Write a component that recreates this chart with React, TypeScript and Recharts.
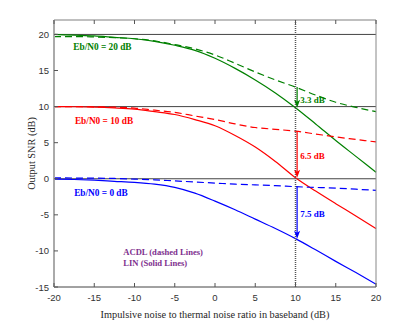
// output snr vs impulsive noise, acdl (dashed) against lin (solid) at three eb/n0 levels
import {
  ComposedChart,
  Line,
  XAxis,
  YAxis,
  ReferenceLine,
  ReferenceDot,
} from "recharts";

// x axis: impulsive-to-thermal noise ratio in dB
const noiseRatio = [-20, -17.5, -15, -12.5, -10, -7.5, -5, -2.5, 0, 2.5, 5, 7.5, 10, 12.5, 15, 17.5, 20];

// one value per noiseRatio entry
const acdl20 = [19.7, 19.7, 19.65, 19.55, 19.4, 19.1, 18.6, 18.0, 17.15, 16.0, 14.8, 13.7, 12.7, 11.6, 10.6, 9.9, 9.3];
const lin20 = [20.0, 19.9, 19.8, 19.6, 19.4, 19.05, 18.5, 17.8, 16.7, 15.3, 13.7, 11.9, 9.85, 7.6, 5.3, 3.1, 0.9];
const acdl10 = [10.0, 10.0, 9.97, 9.92, 9.8, 9.5, 9.2, 8.7, 8.2, 7.6, 7.1, 6.85, 6.6, 6.2, 5.8, 5.45, 5.1];
const lin10 = [10.0, 9.98, 9.93, 9.82, 9.65, 9.3, 8.9, 8.2, 7.35, 6.0, 4.4, 2.4, 0.15, -1.7, -3.45, -5.15, -6.9];
const acdl0 = [0.12, 0.1, 0.08, 0.04, -0.05, -0.15, -0.3, -0.45, -0.6, -0.75, -0.85, -0.95, -1.1, -1.2, -1.3, -1.45, -1.6];
const lin0 = [-0.05, -0.1, -0.2, -0.35, -0.5, -0.75, -1.2, -2.0, -3.1, -4.3, -5.6, -6.9, -8.3, -9.85, -11.45, -13.0, -14.6];

const xTicks = [-20, -15, -10, -5, 0, 5, 10, 15, 20];
const yTicks = [-15, -10, -5, 0, 5, 10, 15, 20];
const refLevels = [20, 10, 0];

// gap arrows at noise ratio 10 (from acdl value down to lin value)
const gapArrows = [
  { from: 12.7, to: 9.85, label: "3.3 dB", labelY: 10.9, color: "#008000" },
  { from: 6.6, to: 0.15, label: "6.5 dB", labelY: 3.1, color: "#ff0000" },
  { from: -1.1, to: -8.3, label: "7.5 dB", labelY: -4.9, color: "#0000ff" },
];

const curveLabels = [
  { text: "Eb/N0 = 20 dB", x: -17.6, y: 18.3, color: "#008000" },
  { text: "Eb/N0 = 10 dB", x: -17.4, y: 8.0, color: "#ff0000" },
  { text: "Eb/N0 = 0 dB", x: -17.5, y: -2.0, color: "#0000ff" },
  { text: "ACDL (dashed Lines)", x: -11.4, y: -10.2, color: "#7e2f8e" },
  { text: "LIN (Solid Lines)", x: -11.4, y: -11.7, color: "#7e2f8e" },
];

const data = noiseRatio.map((x, i) => ({
  x,
  acdl20: acdl20[i],
  lin20: lin20[i],
  acdl10: acdl10[i],
  lin10: lin10[i],
  acdl0: acdl0[i],
  lin0: lin0[i],
}));

const sans = "'Liberation Sans', Arial, sans-serif";
const serif = "'Liberation Serif', 'Times New Roman', serif";
const tickColor = "#555";

// tickSize/tickMargin are 0 so (x, y) is the axis edge; we draw inward ticks ourselves
function LeftTick(p: any) {
  return (
    <g>
      <line x1={p.x} y1={p.y} x2={p.x + 4} y2={p.y} stroke={tickColor} />
      <text x={p.x - 5} y={p.y} textAnchor="end" dominantBaseline="central" fontSize={9.5} fontFamily={sans} fill="#333">
        {p.payload.value}
      </text>
    </g>
  );
}
function BottomTick(p: any) {
  return (
    <g>
      <line x1={p.x} y1={p.y} x2={p.x} y2={p.y - 4} stroke={tickColor} />
      <text x={p.x} y={p.y + 10} textAnchor="middle" dominantBaseline="central" fontSize={9.5} fontFamily={sans} fill="#333">
        {p.payload.value}
      </text>
    </g>
  );
}
function TopTick(p: any) {
  return <line x1={p.x} y1={p.y} x2={p.x} y2={p.y + 4} stroke={tickColor} />;
}
function RightTick(p: any) {
  return <line x1={p.x} y1={p.y} x2={p.x - 4} y2={p.y} stroke={tickColor} />;
}

function arrowShape(color: string) {
  return (p: any) => (
    <g>
      <line x1={p.x1} y1={p.y1} x2={p.x2} y2={p.y2 - 4} stroke={color} strokeWidth={1.2} />
      <polygon points={`${p.x2},${p.y2} ${p.x2 - 3},${p.y2 - 8} ${p.x2},${p.y2 - 6} ${p.x2 + 3},${p.y2 - 8}`} fill={color} />
    </g>
  );
}

function textShape(text: string, color: string, size: number) {
  return (p: any) => (
    <text x={p.cx} y={p.cy} dominantBaseline="central" fontSize={size} fontWeight="bold" fontFamily={serif} fill={color}>
      {text}
    </text>
  );
}

const axisIds = { xAxisId: "b", yAxisId: "l" };

export default function App() {
  return (
    <div style={{ position: "absolute", left: 0, top: 0, width: 415, height: 327, background: "#fff" }}>
      <ComposedChart width={415} height={327} data={data} margin={{ top: 19, right: 38, bottom: 0, left: 24 }}>
        <XAxis
          xAxisId="b"
          dataKey="x"
          type="number"
          domain={[-20, 20]}
          ticks={xTicks}
          height={40}
          tickSize={0}
          tickMargin={0}
          tickLine={false}
          tick={BottomTick}
          axisLine={{ stroke: "#444", strokeWidth: 1 }}
          label={(p: any) => (
            <text
              x={p.viewBox.x + p.viewBox.width / 2}
              y={p.viewBox.y + 27}
              textAnchor="middle"
              dominantBaseline="central"
              fontSize={10.3}
              fontFamily={serif}
              fill="#262626"
            >
              Impulsive noise to thermal noise ratio in baseband (dB)
            </text>
          )}
        />
        <XAxis
          xAxisId="t"
          dataKey="x"
          type="number"
          orientation="top"
          domain={[-20, 20]}
          ticks={xTicks}
          height={1}
          tickSize={0}
          tickMargin={0}
          tickLine={false}
          tick={TopTick}
          axisLine={{ stroke: "#aaa", strokeWidth: 1.5 }}
        />
        <YAxis
          yAxisId="l"
          type="number"
          domain={[-15, 22]}
          ticks={yTicks}
          width={30}
          tickSize={0}
          tickMargin={0}
          tickLine={false}
          tick={LeftTick}
          axisLine={{ stroke: "#aaa", strokeWidth: 2 }}
          label={(p: any) => {
            const cx = p.viewBox.x + 7;
            const cy = p.viewBox.y + p.viewBox.height / 2;
            return (
              <text
                x={cx}
                y={cy}
                transform={`rotate(-90 ${cx} ${cy})`}
                textAnchor="middle"
                dominantBaseline="central"
                fontSize={10.3}
                fontFamily={serif}
                fill="#262626"
              >
                Output SNR (dB)
              </text>
            );
          }}
        />
        <YAxis
          yAxisId="r"
          type="number"
          orientation="right"
          domain={[-15, 22]}
          ticks={yTicks}
          width={1}
          tickSize={0}
          tickMargin={0}
          tickLine={false}
          tick={RightTick}
          axisLine={{ stroke: "#888", strokeWidth: 1 }}
        />

        {refLevels.map((v) => (
          <ReferenceLine key={v} {...axisIds} y={v} stroke="#444" strokeWidth={1} />
        ))}

        <Line {...axisIds} type="monotone" dataKey="lin20" stroke="#008000" strokeWidth={1.2} dot={false} isAnimationActive={false} />
        <Line {...axisIds} type="monotone" dataKey="acdl20" stroke="#008000" strokeWidth={1.2} strokeDasharray="7 4" dot={false} isAnimationActive={false} />
        <Line {...axisIds} type="monotone" dataKey="lin10" stroke="#ff0000" strokeWidth={1.2} dot={false} isAnimationActive={false} />
        <Line {...axisIds} type="monotone" dataKey="acdl10" stroke="#ff0000" strokeWidth={1.2} strokeDasharray="7 4" dot={false} isAnimationActive={false} />
        <Line {...axisIds} type="monotone" dataKey="lin0" stroke="#0000ff" strokeWidth={1.2} dot={false} isAnimationActive={false} />
        <Line {...axisIds} type="monotone" dataKey="acdl0" stroke="#0000ff" strokeWidth={1.2} strokeDasharray="7 4" dot={false} isAnimationActive={false} />

        <ReferenceLine {...axisIds} x={10} stroke="#555" strokeWidth={1.5} strokeDasharray="1 1" />

        {gapArrows.map((a) => (
          <ReferenceLine
            key={a.label}
            {...axisIds}
            segment={[
              { x: 10.2, y: a.from },
              { x: 10.2, y: a.to },
            ]}
            shape={arrowShape(a.color)}
          />
        ))}
        {gapArrows.map((a) => (
          <ReferenceDot key={"t" + a.label} {...axisIds} x={10.6} y={a.labelY} r={0} shape={textShape(a.label, a.color, 9)} />
        ))}
        {curveLabels.map((c, i) => (
          <ReferenceDot key={c.text} {...axisIds} x={c.x} y={c.y} r={0} shape={textShape(c.text, c.color, i < 3 ? 9.3 : 8.6)} />
        ))}
      </ComposedChart>
    </div>
  );
}
